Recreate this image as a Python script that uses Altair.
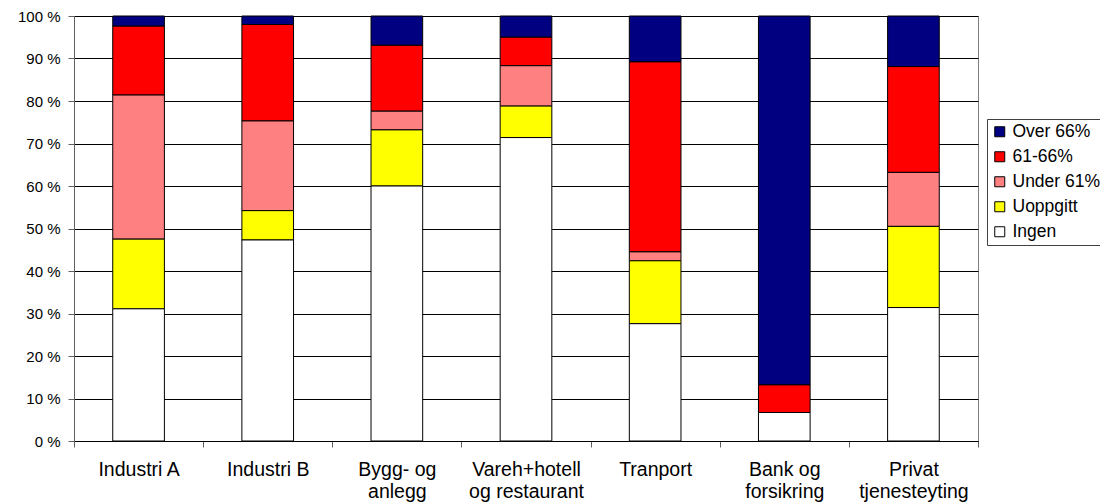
import altair as alt
import pandas as pd

# Share of employees per sector, split by pension band (percent of each sector)
categories = [
    "Industri A",
    "Industri B",
    "Bygg- og\nanlegg",
    "Vareh+hotell\nog restaurant",
    "Tranport",
    "Bank og\nforsikring",
    "Privat\ntjenesteyting",
]
series = ["Over 66%", "61-66%", "Under 61%", "Uoppgitt", "Ingen"]
colors = ["#000080", "#FF0000", "#FF8080", "#FFFF00", "#FFFFFF"]

over66 = [2.4, 2.0, 6.9, 5.0, 10.8, 86.8, 11.9]
mid61_66 = [16.2, 22.7, 15.5, 6.7, 44.7, 6.5, 24.9]
under61 = [33.9, 21.1, 4.4, 9.5, 2.1, 0.0, 12.7]
uoppgitt = [16.4, 6.9, 13.2, 7.4, 14.8, 0.0, 19.1]
ingen = [31.1, 47.3, 60.0, 71.4, 27.6, 6.7, 31.4]

y_ticks = [0, 10, 20, 30, 40, 50, 60, 70, 80, 90, 100]

values_by_series = {
    "Over 66%": over66,
    "61-66%": mid61_66,
    "Under 61%": under61,
    "Uoppgitt": uoppgitt,
    "Ingen": ingen,
}
# stacking order: Ingen at the bottom, Over 66% on top
stack_rank = {name: len(series) - 1 - i for i, name in enumerate(series)}

rows = []
for name, vals in values_by_series.items():
    for cat, v in zip(categories, vals):
        if v > 0:
            rows.append({"sektor": cat, "gruppe": name, "andel": v, "rank": stack_rank[name]})
df = pd.DataFrame(rows)

font = "Liberation Sans"

bars = (
    alt.Chart(df)
    .mark_bar(stroke="black", strokeWidth=1, width=alt.RelativeBandSize(0.4))
    .encode(
        x=alt.X(
            "sektor:N",
            sort=categories,
            scale=alt.Scale(paddingInner=0, paddingOuter=0),
            axis=alt.Axis(
                title=None,
                labelAngle=0,
                labelExpr="split(datum.label, '\\n')",
                labelFont=font,
                labelFontSize=19.5,
                labelColor="black",
                labelLineHeight=22,
                labelPadding=13,
                tickBand="extent",
                tickSize=6,
                tickColor="#606060",
                domainColor="black",
                grid=False,
            ),
        ),
        y=alt.Y(
            "andel:Q",
            stack="zero",
            scale=alt.Scale(domain=[0, 100], nice=False),
            axis=alt.Axis(
                title=None,
                values=y_ticks,
                labelExpr="datum.value + ' %'",
                labelFont=font,
                labelFontSize=15,
                labelColor="black",
                labelPadding=8,
                tickSize=6,
                tickColor="#606060",
                domainColor="#606060",
                grid=True,
                gridColor="black",
                gridWidth=1,
            ),
        ),
        color=alt.Color(
            "gruppe:N",
            scale=alt.Scale(domain=series, range=colors),
            legend=alt.Legend(
                title=None,
                orient="none",
                legendX=913,
                legendY=103,
                symbolType="square",
                symbolSize=100,
                symbolStrokeColor="black",
                symbolStrokeWidth=1,
                labelFont=font,
                labelFontSize=17.5,
                labelColor="black",
                labelOffset=4,
                rowPadding=6,
                padding=4,
                strokeColor="#404040",
                fillColor="white",
            ),
        ),
        order=alt.Order("rank:Q", sort="ascending"),
    )
)

chart = (
    bars.properties(
        width=904,
        height=425,
        autosize=alt.AutoSizeParams(type="none"),
        padding={"left": 74, "top": 16, "right": 122, "bottom": 62},
        background="white",
    )
    .configure_view(stroke="#808080", strokeWidth=1)
)

chart.save("out.html", embed_options={"renderer": "svg", "actions": False})
